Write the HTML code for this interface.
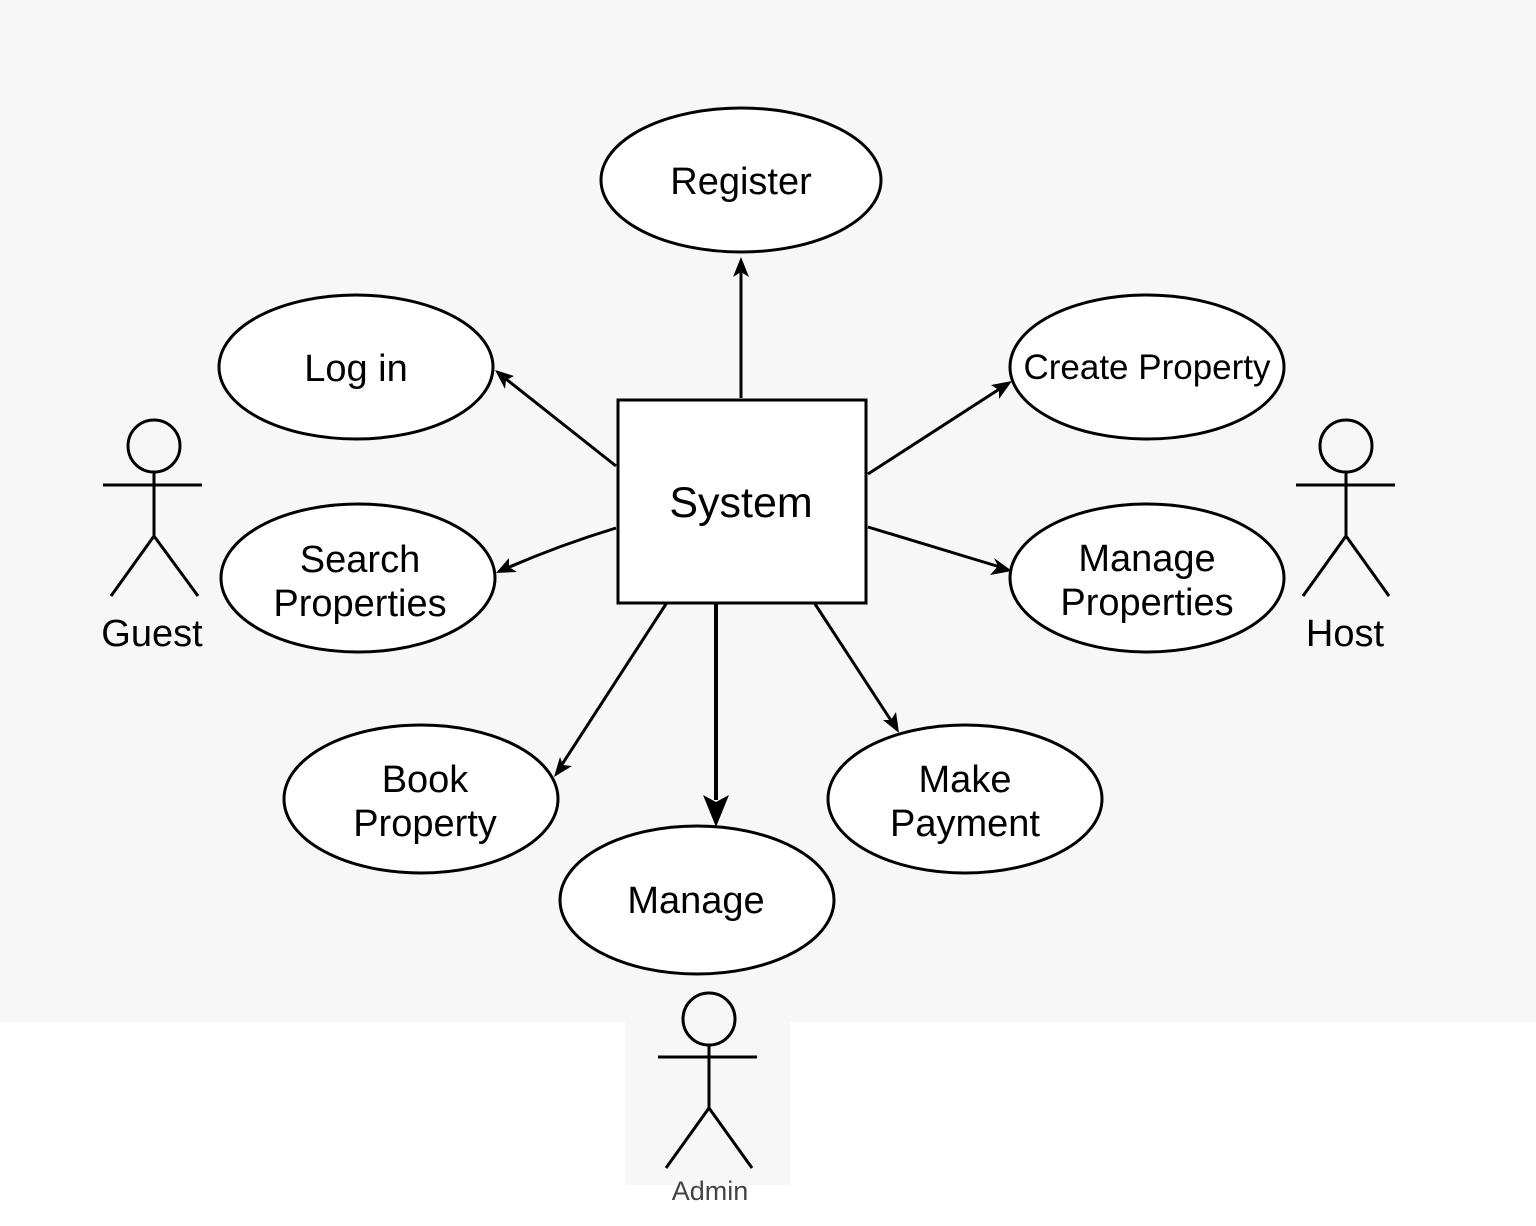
<!DOCTYPE html>
<html><head><meta charset="utf-8"><style>
html,body{margin:0;padding:0;background:#fff}
svg{display:block}
text{font-family:"Liberation Sans",sans-serif;fill:#000;text-anchor:middle}
</style></head><body>
<svg width="1536" height="1226" viewBox="0 0 1536 1226">
<rect x="0" y="0" width="1536" height="1022" fill="#f7f7f7"/>
<rect x="625" y="985" width="165" height="200" fill="#f7f7f7"/>
<g fill="#fff" stroke="#000" stroke-width="3">
<ellipse cx="741" cy="180" rx="140" ry="72"/>
<ellipse cx="356" cy="367" rx="137" ry="72"/>
<ellipse cx="1147" cy="367" rx="137" ry="72"/>
<ellipse cx="358" cy="578" rx="137" ry="74"/>
<ellipse cx="1147" cy="578" rx="137" ry="74"/>
<ellipse cx="421" cy="799" rx="137" ry="74"/>
<ellipse cx="965" cy="799" rx="137" ry="74"/>
<ellipse cx="697" cy="900" rx="137" ry="74"/>
<rect x="618" y="400" width="248" height="203"/>
</g>
<g stroke="#000" stroke-width="3" fill="none">
<line x1="741" y1="398" x2="741" y2="270"/>
<line x1="616" y1="466" x2="506" y2="379"/>
<line x1="868" y1="474" x2="1001" y2="388"/>
<path d="M616,528 Q560,545 507,568"/>
<line x1="868" y1="527" x2="1000" y2="567"/>
<line x1="666" y1="604" x2="561" y2="766"/>
<line x1="716" y1="604" x2="716" y2="800" stroke-width="4"/>
<line x1="815" y1="604" x2="892" y2="722"/>
<circle cx="154" cy="446" r="26"/><line x1="103" y1="485" x2="202" y2="485"/><line x1="154" y1="472" x2="154" y2="536"/><polyline points="111,596 154,536 198,596"/>
<circle cx="1346" cy="446" r="26"/><line x1="1296" y1="485" x2="1395" y2="485"/><line x1="1346" y1="472" x2="1346" y2="536"/><polyline points="1303,596 1346,536 1389,596"/>
<circle cx="709" cy="1019" r="26"/><line x1="658" y1="1057" x2="757" y2="1057"/><line x1="709" y1="1045" x2="709" y2="1108"/><polyline points="666,1168 709,1108 752,1168"/>
</g>
<g fill="#000">
<polygon points="741,257 733,277 741,272 749,277"/>
<polygon points="495,370 505,389 506,380 514,376"/>
<polygon points="1012,381 991,385 999,390 999,399"/>
<polygon points="496,573 517,572 509,567 509,558"/>
<polygon points="1012,571 994,558 998,566 990,575"/>
<polygon points="554,777 560,757 563,765 572,766"/>
<polygon points="716,827 703,795 716,802 729,795"/>
<polygon points="899,733 883,720 891,720 896,712"/>
</g>
<text x="741" y="194" font-size="38">Register</text>
<text x="356" y="381" font-size="38">Log in</text>
<text x="1147" y="379" font-size="35">Create Property</text>
<text x="360" y="572" font-size="38">Search</text>
<text x="360" y="616" font-size="38">Properties</text>
<text x="1147" y="571" font-size="38">Manage</text>
<text x="1147" y="615" font-size="38">Properties</text>
<text x="425" y="792" font-size="38">Book</text>
<text x="425" y="836" font-size="38">Property</text>
<text x="965" y="792" font-size="38">Make</text>
<text x="965" y="836" font-size="38">Payment</text>
<text x="696" y="913" font-size="38">Manage</text>
<text x="741" y="517" font-size="43">System</text>
<text x="152" y="646" font-size="38">Guest</text>
<text x="1345" y="646" font-size="38">Host</text>
<text x="710" y="1200" font-size="27" style="fill:#444">Admin</text>
</svg>
</body></html>
